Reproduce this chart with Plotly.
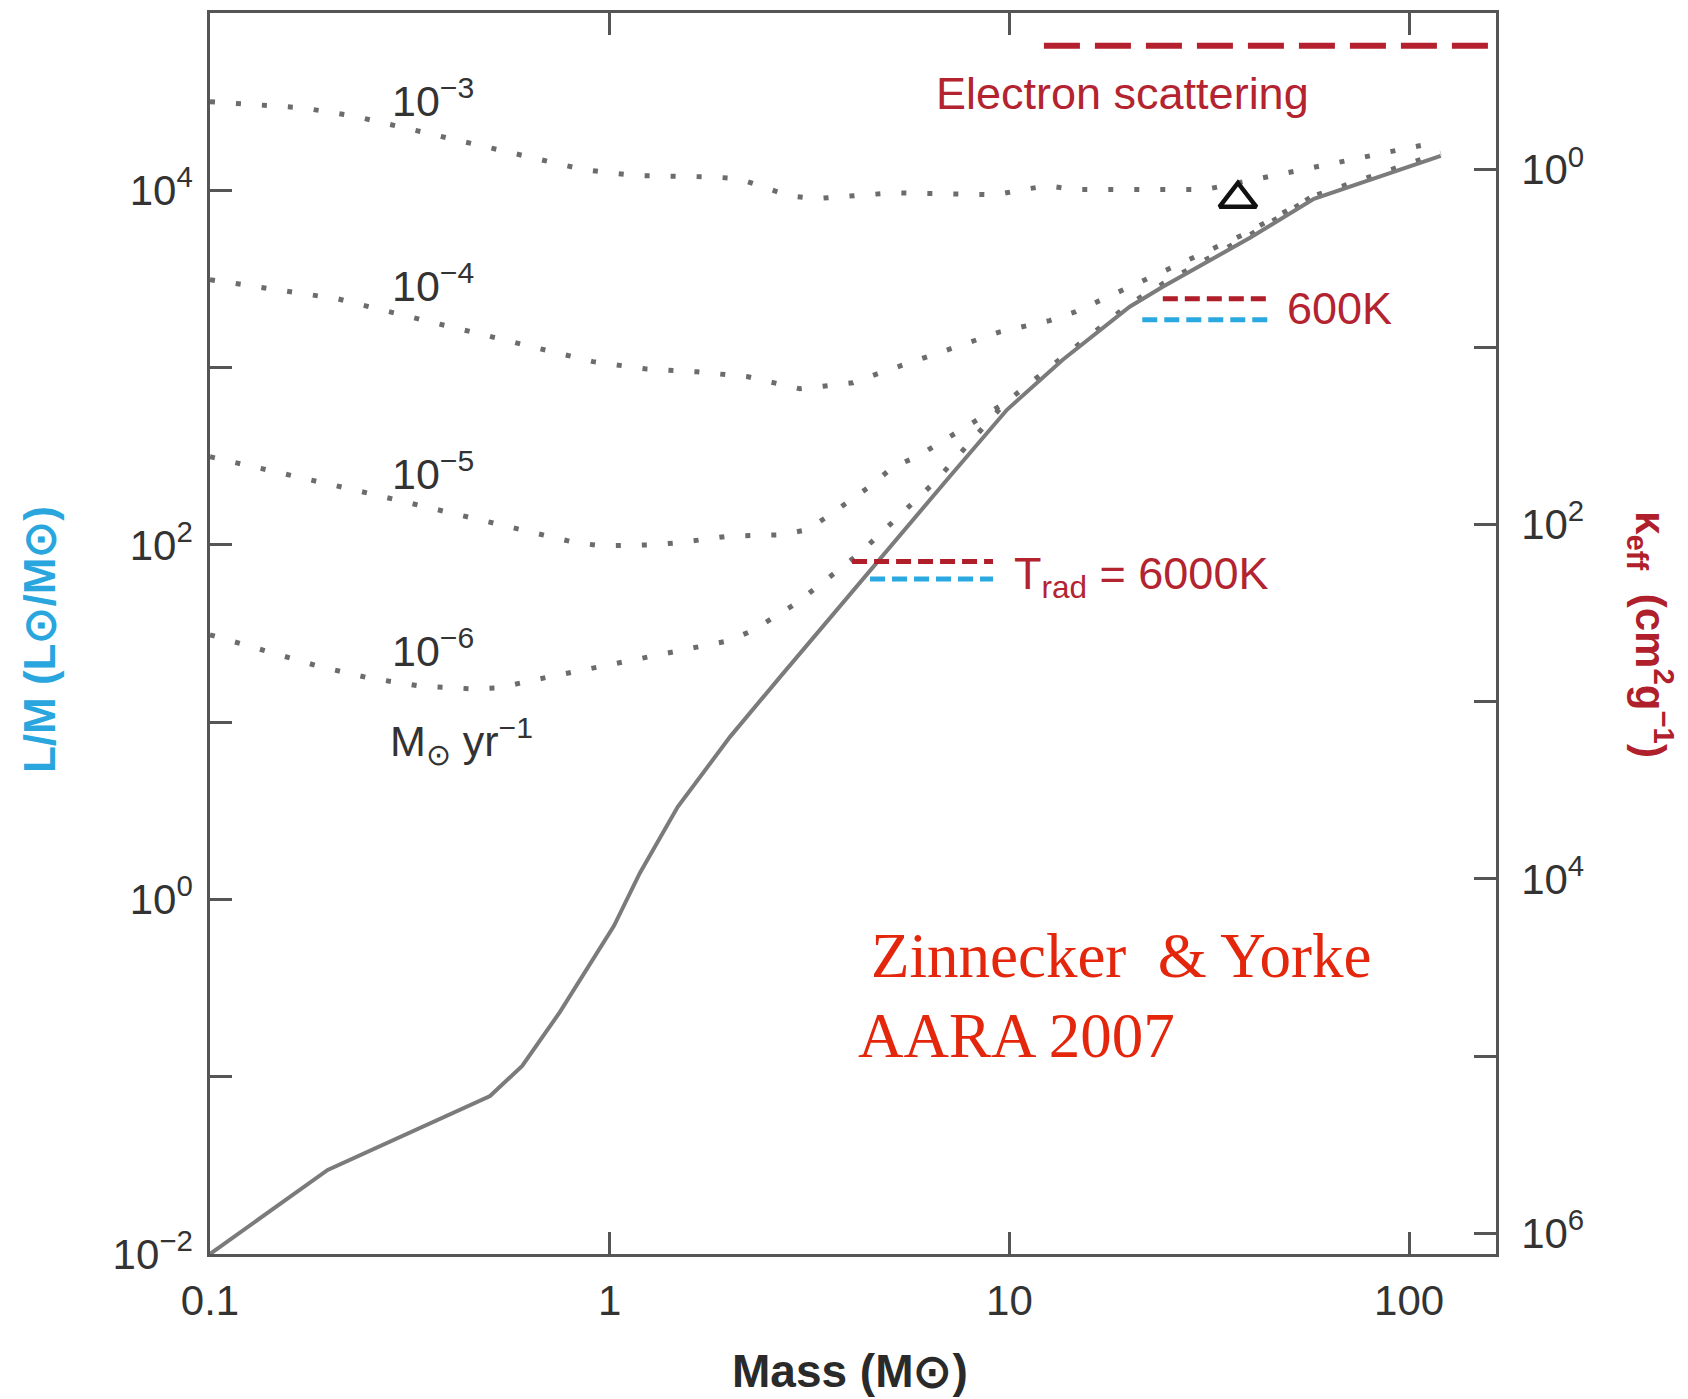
import plotly.graph_objects as go

# ---------------- data ----------------
# ZAMS-like solid curve: mass (Msun) vs L/M (Lsun/Msun)
MASS_SOLID = [0.1, 0.197, 0.502, 0.604, 0.751, 1.025, 1.19, 1.48, 2.0, 2.67,
              6.98, 9.86, 13.6, 20.0, 24.2, 40.0, 57.8, 120]
LM_SOLID = [0.01, 0.0298, 0.0778, 0.115, 0.232, 0.71, 1.41, 3.33, 8.26, 18.0,
            233, 578, 1107, 2203, 2858, 5395, 8954, 15650]

# accretion tracks (dotted), labelled by accretion rate in Msun/yr
MASS_1E3 = [0.1, 0.170, 0.228, 0.857, 1.157, 1.81, 2.11, 2.81, 3.26, 5.11,
            9.31, 10.8, 12.5, 14.5, 30.9, 41.9, 119]
LM_1E3 = [31600, 29200, 26300, 13100, 12100, 11900, 11600, 9310, 8960, 9680,
          9440, 10100, 10600, 10100, 10100, 11600, 18800]

MASS_1E4 = [0.1, 0.156, 0.209, 0.282, 0.908, 1.225, 1.65, 2.22, 2.99, 4.06,
            4.67, 9.47, 12.6, 14.6, 38.4, 57.8]
LM_1E4 = [3130, 2670, 2440, 2060, 1080, 984, 946, 887, 759, 820,
          922, 1590, 1840, 2060, 5610, 9310]

MASS_1E5 = [0.1, 0.1885, 0.253, 0.819, 0.957, 1.283, 1.50, 1.98, 2.71, 3.13,
            3.56, 4.53, 5.11, 5.87, 9.75]
LM_1E5 = [314, 227, 194, 103, 98.7, 100, 103, 112, 114, 122,
          148, 218, 275, 314, 632]

MASS_1E6 = [0.1, 0.185, 0.248, 0.335, 0.455, 0.525, 0.705, 1.97, 2.27, 2.94,
            4.23, 6.52, 9.75, 13.6, 20.0, 24.2, 40.0, 57.8, 120]
LM_1E6 = [31.1, 20.8, 17.8, 16.0, 15.4, 15.6, 18.0, 28.7, 32.7, 47.1,
          90.1, 227, 632, 1150, 2289, 2969, 5610, 9310, 16280]

TRACK_LABELS = ["10<sup>−3</sup>", "10<sup>−4</sup>", "10<sup>−5</sup>", "10<sup>−6</sup>"]

# triangle marker on the 1e-3 track
MASS_TRI = [37.3]
LM_TRI = [8950]

# electron scattering opacity (right axis, kappa in cm^2/g)
MASS_ES = [12.2, 157.6]
KAPPA_ES = [0.2, 0.2]

# Trad = 6000 K and 600 K levels (L/M units)
MASS_6000_RED = [4.04, 9.1]
LM_6000_RED = [80.5, 80.5]
MASS_6000_BLUE = [4.48, 9.1]
LM_6000_BLUE = [64.1, 64.1]
MASS_600_RED = [24.2, 44.4]
LM_600_RED = [2443, 2443]
MASS_600_BLUE = [21.5, 44.4]
LM_600_BLUE = [1858, 1858]

# axes
X_TICKS = [0.1, 1, 10, 100]
X_TICKTEXT = ["0.1", "1", "10", "100"]
Y_TICKS = [0.01, 1, 100, 10000]
Y_TICKTEXT = ["10<sup>−2</sup>", "10<sup>0</sup>", "10<sup>2</sup>", "10<sup>4</sup>"]
Y_MINOR = [0.1, 10, 1000]
K_TICKS = [1, 100, 1e4, 1e6]
K_TICKTEXT = ["10<sup>0</sup>", "10<sup>2</sup>", "10<sup>4</sup>", "10<sup>6</sup>"]
K_MINOR = [10, 1e3, 1e5]
EDD_OFFSET = 4.116  # log10(L/M) = 4.116 - log10(kappa)

# ---------------- styles ----------------
FONT = "Liberation Sans, Arial, sans-serif"
AX = "#555555"
DARKRED = "#b32330"
BLUE = "#2aa6df"
DOT = dict(color="#6c6c6c", width=5, dash="5px,21px")

fig = go.Figure()
for m, lm in [(MASS_1E3, LM_1E3), (MASS_1E4, LM_1E4), (MASS_1E5, LM_1E5), (MASS_1E6, LM_1E6)]:
    fig.add_trace(go.Scatter(x=m, y=lm, mode="lines", line=DOT, hoverinfo="skip"))

fig.add_trace(go.Scatter(x=MASS_SOLID, y=LM_SOLID, mode="lines",
                         line=dict(color="#7b7b7b", width=4)))

fig.add_trace(go.Scatter(x=MASS_6000_RED, y=LM_6000_RED, mode="lines",
                         line=dict(color="#b01e2a", width=5, dash="15px,7px")))
fig.add_trace(go.Scatter(x=MASS_6000_BLUE, y=LM_6000_BLUE, mode="lines",
                         line=dict(color="#2aa9e1", width=5, dash="15px,7px")))
fig.add_trace(go.Scatter(x=MASS_600_RED, y=LM_600_RED, mode="lines",
                         line=dict(color="#b01e2a", width=5, dash="15px,7px")))
fig.add_trace(go.Scatter(x=MASS_600_BLUE, y=LM_600_BLUE, mode="lines",
                         line=dict(color="#2aa9e1", width=5, dash="15px,7px")))

fig.add_trace(go.Scatter(x=MASS_TRI, y=LM_TRI, mode="markers",
                         marker=dict(symbol="triangle-up-open", size=32,
                                     color="#111111", line=dict(width=4.5, color="#111111"))))

fig.add_trace(go.Scatter(x=MASS_ES, y=KAPPA_ES, yaxis="y2", mode="lines",
                         line=dict(color="#b5202e", width=6, dash="36px,15px")))

tickfont = dict(family=FONT, size=42, color="#333333")
common = dict(type="log", ticks="inside", ticklen=22, tickwidth=2.5, tickcolor=AX,
              showline=True, linecolor=AX, linewidth=2.5, showgrid=False,
              zeroline=False, tickfont=tickfont, automargin=False)
minor_style = dict(ticks="inside", ticklen=22, tickwidth=2.5, tickcolor=AX, showgrid=False)

fig.update_layout(
    template="none",
    width=1688, height=1399,
    margin=dict(l=210, r=192, t=13, b=145, pad=0),
    paper_bgcolor="white", plot_bgcolor="white",
    showlegend=False,
    xaxis=dict(range=[-1, 2.2174], tickvals=X_TICKS, ticktext=X_TICKTEXT,
               mirror="ticks", ticklabelstandoff=8, **common),
    yaxis=dict(range=[-2, 5.0], tickvals=Y_TICKS, ticktext=Y_TICKTEXT,
               minor=dict(tickvals=Y_MINOR, **minor_style),
               mirror=False, ticklabelstandoff=6, **common),
    yaxis2=dict(range=[EDD_OFFSET + 2, EDD_OFFSET - 5.0], tickvals=K_TICKS,
                ticktext=K_TICKTEXT, minor=dict(tickvals=K_MINOR, **minor_style),
                overlaying="y", side="right",
                ticklabelstandoff=14, **common),
)

def ann(text, x, y, size, color, family=FONT, xanchor="left", yanchor="middle", angle=0):
    fig.add_annotation(text=text, x=x, y=y, xref="paper", yref="paper",
                       showarrow=False, xanchor=xanchor, yanchor=yanchor,
                       textangle=angle, font=dict(family=family, size=size, color=color))

# track labels
label_y = [0.9315, 0.7824, 0.6309, 0.4883]
for t, yy in zip(TRACK_LABELS, label_y):
    ann(t, 0.1399, yy, 43, "#333333")
ann("M<sub>⊙</sub> yr<sup>−1</sup>", 0.1383, 0.4134, 43, "#333333")

ann("Electron scattering", 0.5626, 0.9351, 45, DARKRED)
ann("600K", 0.836, 0.7615, 45, DARKRED)
ann("T<sub>rad</sub> = 6000K", 0.624, 0.5463, 45, DARKRED)

ann("Zinnecker  &amp; Yorke", 0.5128, 0.2401, 63, "#e3260c",
    family="Liberation Serif, Times New Roman, serif")
ann("AARA 2007", 0.502, 0.1757, 63, "#e3260c",
    family="Liberation Serif, Times New Roman, serif")

# axis titles
ann("<b>L/M (L⊙/M⊙)</b>", -0.1321, 0.4948, 44, BLUE, xanchor="center", angle=-90)
ann("<b>κ<sub>eff</sub>  (cm<sup>2</sup>g<sup>−1</sup>)</b>", 1.1205, 0.4988, 42, "#b0202c",
    xanchor="center", angle=90)
ann("<b>Mass (M⊙)</b>", 0.4973, -0.0943, 46, "#2a2a2a", xanchor="center")

fig.write_html("out.html")
